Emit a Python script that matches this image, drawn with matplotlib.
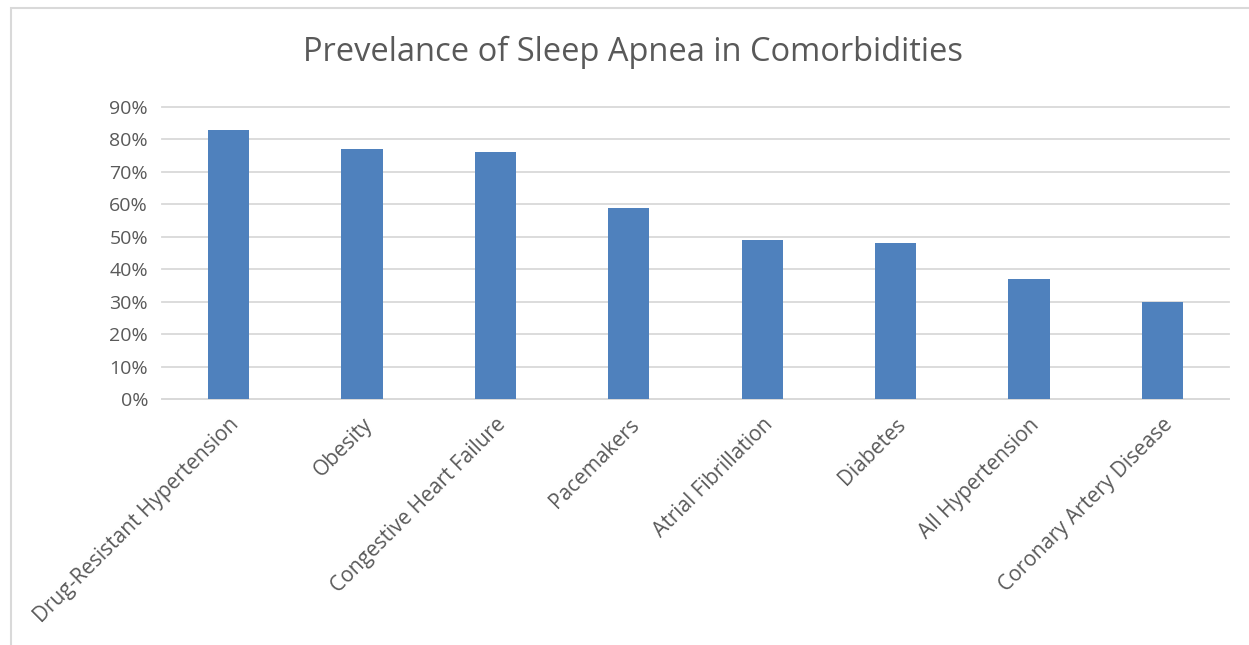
import matplotlib.pyplot as plt
from matplotlib.patches import Rectangle
from matplotlib.ticker import PercentFormatter

plt.rcParams['font.family'] = ['Open Sans', 'DejaVu Sans']

categories = ['Drug-Resistant Hypertension', 'Obesity', 'Congestive Heart Failure',
              'Pacemakers', 'Atrial Fibrillation', 'Diabetes', 'All Hypertension',
              'Coronary Artery Disease']
prevalence = [0.83, 0.77, 0.76, 0.59, 0.49, 0.48, 0.37, 0.30]
y_ticks = [0.0, 0.1, 0.2, 0.3, 0.4, 0.5, 0.6, 0.7, 0.8, 0.9]

TEXT = '#595959'
GRID = '#d9d9d9'
BAR = '#4f81bd'

fig = plt.figure(figsize=(12.49, 6.45), dpi=100)
# chart border (cut off on right and bottom, like the screenshot)
fig.patches.append(Rectangle((11 / 1249, -0.1), 1.2, 1 - 8 / 645 + 0.1,
                             transform=fig.transFigure, fill=False,
                             edgecolor='#d9d9d9', linewidth=1.5))

ax = fig.add_axes([162 / 1249, 1 - 399 / 645, (1229 - 162) / 1249, (399 - 107) / 645])
x = range(len(categories))
ax.bar(x, prevalence, width=0.31, color=BAR, zorder=3)

ax.set_xlim(-0.5, len(categories) - 0.5)
ax.set_ylim(0, 0.9)
ax.set_yticks(y_ticks)
ax.yaxis.set_major_formatter(PercentFormatter(1.0, decimals=0))
ax.grid(axis='y', color=GRID, linewidth=1.3, zorder=0)
for line in ax.get_ygridlines():
    line.set_clip_on(False)
for side in ['top', 'right', 'left']:
    ax.spines[side].set_visible(False)
ax.spines['bottom'].set_color(GRID)
ax.spines['bottom'].set_linewidth(1.3)
ax.tick_params(axis='both', length=0, colors=TEXT, labelsize=14)
ax.tick_params(axis='y', pad=10)
ax.tick_params(axis='x', pad=11, labelsize=15)
ax.set_xticks(list(x))
ax.set_xticklabels(categories, rotation=45, ha='right', rotation_mode='anchor')

fig.text(0.507, 1 - 52 / 645, 'Prevelance of Sleep Apnea in Comorbidities',
         ha='center', va='center', fontsize=23.5, color=TEXT)

fig.savefig('out.png', dpi=100)
